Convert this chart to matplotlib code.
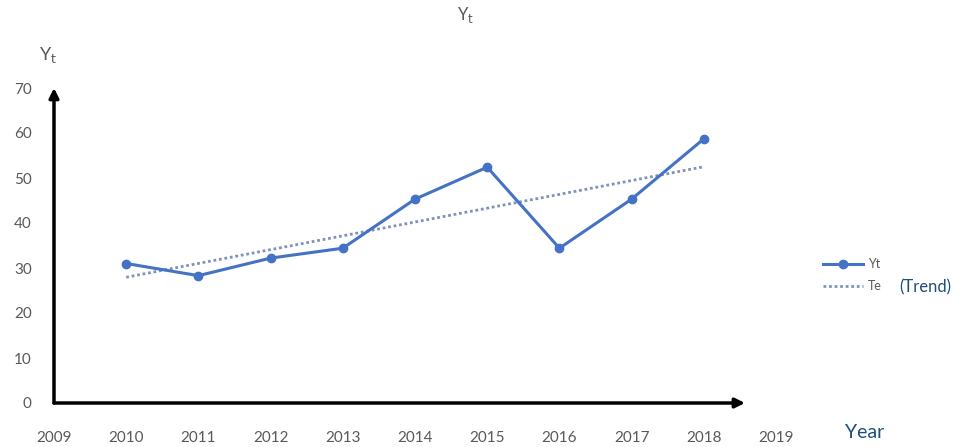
import numpy as np
import matplotlib
matplotlib.use("Agg")
import matplotlib.pyplot as plt

plt.rcParams["font.family"] = ["Lato", "DejaVu Sans"]

years = [2010, 2011, 2012, 2013, 2014, 2015, 2016, 2017, 2018]
yt = [31.0, 28.3, 32.2, 34.4, 45.3, 52.4, 34.4, 45.3, 58.7]
xticks = list(range(2009, 2020))
yticks = [0, 10, 20, 30, 40, 50, 60, 70]

line_color = "#4472C4"
text_grey = "#595959"
dark_blue = "#1F4E79"

# linear trendline (like the Excel one)
coef = np.polyfit(years, yt, 1)
trend = np.polyval(coef, years)

fig = plt.figure(figsize=(9.65, 4.47), dpi=100)
ax = fig.add_axes([54 / 965, 44 / 447, 722 / 965, 315 / 447])

ax.plot(years, yt, color=line_color, linewidth=2.2, marker="o", markersize=6, label="Yt", zorder=3)
ax.plot(years, trend, color="#7F93B8", linewidth=2.0, linestyle=(0, (1, 1)), label="Te", zorder=2)

ax.set_xlim(2009, 2019)
ax.set_ylim(0, 70)
ax.set_xticks(xticks)
ax.set_yticks(yticks)
ax.tick_params(axis="both", length=0, labelsize=11, labelcolor=text_grey)
ax.tick_params(axis="x", pad=20)
ax.tick_params(axis="y", pad=16)
for s in ax.spines.values():
    s.set_visible(False)

# arrow axes
ax.annotate("", xy=(0.957, 0), xytext=(0, 0), xycoords="axes fraction",
            arrowprops=dict(arrowstyle="-|>", color="black", lw=2.5, mutation_scale=14, shrinkA=0, shrinkB=0))
ax.annotate("", xy=(0, 1.0), xytext=(0, 0), xycoords="axes fraction",
            arrowprops=dict(arrowstyle="-|>", color="black", lw=2.5, mutation_scale=14, shrinkA=0, shrinkB=0))

fig.text(465 / 965, 1 - 15 / 447, r"Y$_\mathrm{t}$", ha="center", va="center", fontsize=12, color=text_grey)
fig.text(48 / 965, 1 - 55 / 447, r"Y$_\mathrm{t}$", ha="center", va="center", fontsize=13, color=text_grey)
fig.text(865 / 965, 1 - 432 / 447, "Year", ha="center", va="center", fontsize=14, color=dark_blue)

fig.legend(loc="center left", bbox_to_anchor=(812 / 965, 1 - 275 / 447), frameon=False,
           fontsize=9, handlelength=3.2, labelcolor=text_grey, labelspacing=0.8, handletextpad=0.4)
fig.text(925 / 965, 1 - 287 / 447, "(Trend)", ha="center", va="center", fontsize=12, color=dark_blue)

fig.savefig("out.png", dpi=100)
